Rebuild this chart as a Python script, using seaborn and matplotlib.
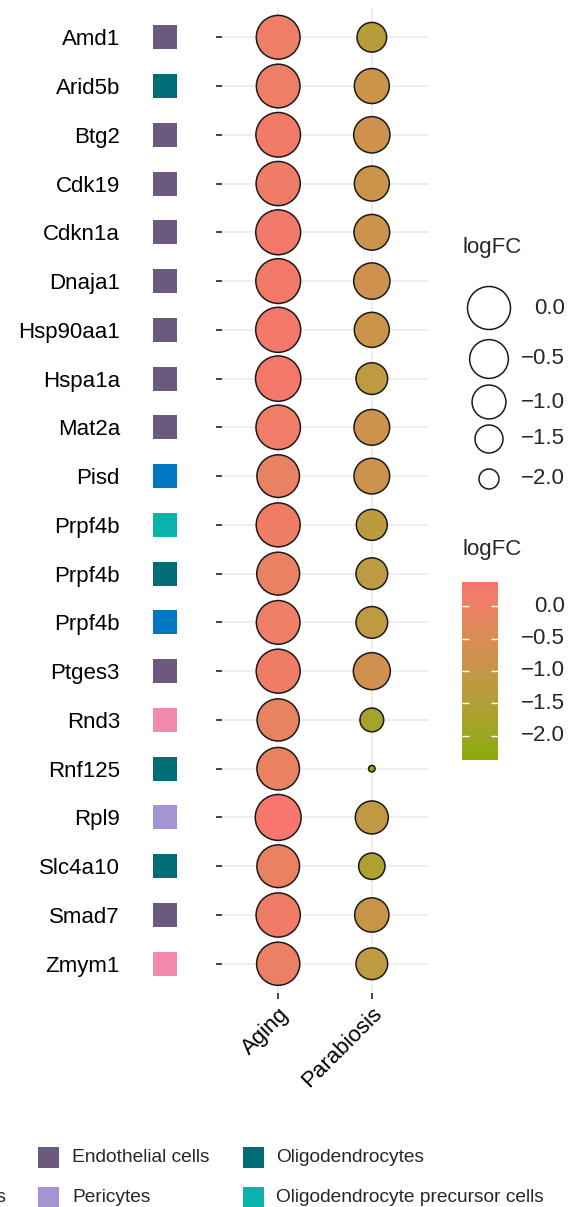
import numpy as np
import pandas as pd
import matplotlib
matplotlib.use("Agg")
import matplotlib.pyplot as plt
import seaborn as sns
from matplotlib.colors import LinearSegmentedColormap, Normalize
from matplotlib.cm import ScalarMappable
from matplotlib.colors import to_rgb

# ---- data -------------------------------------------------------------
genes = ["Amd1", "Arid5b", "Btg2", "Cdk19", "Cdkn1a", "Dnaja1", "Hsp90aa1",
         "Hspa1a", "Mat2a", "Pisd", "Prpf4b", "Prpf4b", "Prpf4b", "Ptges3",
         "Rnd3", "Rnf125", "Rpl9", "Slc4a10", "Smad7", "Zmym1"]
gene_cell_types = ["Endothelial cells", "Oligodendrocytes", "Endothelial cells",
                   "Endothelial cells", "Endothelial cells", "Endothelial cells",
                   "Endothelial cells", "Endothelial cells", "Endothelial cells",
                   "Astrocytes", "Oligodendrocyte precursor cells",
                   "Oligodendrocytes", "Astrocytes", "Endothelial cells",
                   "Microglia", "Oligodendrocytes", "Pericytes",
                   "Oligodendrocytes", "Endothelial cells", "Microglia"]
aging_logfc = [0.10, 0.08, 0.20, 0.15, 0.24, 0.22, 0.26, 0.30, 0.18, -0.05,
               0.12, -0.02, 0.08, 0.12, -0.10, -0.06, 0.37, -0.04, 0.15, 0.02]
parabiosis_logfc = [-1.37, -0.89, -0.76, -0.89, -0.82, -0.76, -0.89, -1.20,
                    -0.82, -0.82, -1.26, -1.20, -1.20, -0.69, -1.79, -2.37,
                    -1.08, -1.62, -0.96, -1.20]
conditions = ["Aging", "Parabiosis"]

cell_type_order = ["Microglia", "Astrocytes", "Endothelial cells", "Pericytes",
                   "Oligodendrocytes", "Oligodendrocyte precursor cells"]
cell_type_colors = ["#F28AAE", "#0077C0", "#6B5A7E", "#A495D2", "#006D77", "#0AB2AC"]

size_breaks = [0.0, -0.5, -1.0, -1.5, -2.0]
break_labels = ["0.0", "\u22120.5", "\u22121.0", "\u22121.5", "\u22122.0"]
logfc_limits = (-2.375, 0.375)

# ---- helpers ------------------------------------------------------------
DPI = 100
W, H = 576, 1207


def srgb_to_lab(rgb):
    c = np.asarray(rgb, float)
    lin = np.where(c <= 0.04045, c / 12.92, ((c + 0.055) / 1.055) ** 2.4)
    m = np.array([[0.4124, 0.3576, 0.1805],
                  [0.2126, 0.7152, 0.0722],
                  [0.0193, 0.1192, 0.9505]])
    xyz = m @ lin / np.array([0.95047, 1.0, 1.08883])
    d = 6 / 29
    f = np.where(xyz > d ** 3, np.cbrt(xyz), xyz / (3 * d * d) + 4 / 29)
    return np.array([116 * f[1] - 16, 500 * (f[0] - f[1]), 200 * (f[1] - f[2])])


def lab_to_srgb(lab):
    L, a, b = lab
    fy = (L + 16) / 116
    fx = fy + a / 500
    fz = fy - b / 200
    d = 6 / 29
    f = np.array([fx, fy, fz])
    xyz = np.where(f > d, f ** 3, 3 * d * d * (f - 4 / 29)) * np.array([0.95047, 1.0, 1.08883])
    minv = np.linalg.inv(np.array([[0.4124, 0.3576, 0.1805],
                                   [0.2126, 0.7152, 0.0722],
                                   [0.0193, 0.1192, 0.9505]]))
    lin = np.clip(minv @ xyz, 0, 1)
    c = np.where(lin <= 0.0031308, 12.92 * lin, 1.055 * lin ** (1 / 2.4) - 0.055)
    return np.clip(c, 0, 1)


def lab_gradient(low, high, n=256):
    l0, l1 = srgb_to_lab(to_rgb(low)), srgb_to_lab(to_rgb(high))
    cols = [lab_to_srgb(l0 + (l1 - l0) * t) for t in np.linspace(0, 1, n)]
    return LinearSegmentedColormap.from_list("logfc", cols)


def marker_area(v):
    lo, hi = logfc_limits
    frac = np.clip((np.asarray(v) - lo) / (hi - lo), 0, 1)
    diam_px = 5.8 + 41.1 * np.sqrt(frac) - 1.0
    diam_px = np.maximum(diam_px, 3.0)
    return (diam_px * 72 / DPI) ** 2


cmap = lab_gradient("#8AAB00", "#F8766D")
norm = Normalize(*logfc_limits)

sns.set_style("white")
plt.rcParams["font.family"] = ["Liberation Sans", "DejaVu Sans"]
plt.rcParams["axes.unicode_minus"] = True
FS = 16

n = len(genes)
rows = np.arange(n)
df = pd.DataFrame({
    "row": np.concatenate([rows, rows]),
    "cond": np.repeat([0, 1], n),
    "logfc": np.concatenate([aging_logfc, parabiosis_logfc]),
})
size_map = {v: float(marker_area(v)) for v in df["logfc"].unique()}

fig = plt.figure(figsize=(W / DPI, H / DPI), dpi=DPI)


def px_axes(x0, y0, x1, y1):
    return fig.add_axes([x0 / W, 1 - y1 / H, (x1 - x0) / W, (y1 - y0) / H])


# ---- dot panel ----------------------------------------------------------
ax = px_axes(222, 8, 428, 993)
ax.set_axisbelow(True)
ax.grid(True, color="#EBEBEB", lw=1.2)
sns.scatterplot(data=df, x="cond", y="row", hue="logfc", palette=cmap,
                hue_norm=norm, size="logfc", sizes=size_map,
                edgecolor="#1A1A1A", linewidth=1.1, legend=False, ax=ax,
                zorder=3)
ax.set_xlim(-0.6, 1.6)
ax.set_ylim(n - 1 + 0.6, -0.6)
ax.set_xticks([0, 1])
ax.set_xticklabels(conditions, rotation=45, ha="right",
                   rotation_mode="anchor", fontsize=FS, color="black")
ax.set_yticks(rows)
ax.set_yticklabels([])
ax.tick_params(axis="y", length=4, width=1.3, color="#333333", left=True)
ax.tick_params(axis="x", length=4.5, width=1.3, color="#333333", bottom=True, pad=3)
ax.set_xlabel("")
ax.set_ylabel("")
for sp in ax.spines.values():
    sp.set_visible(False)

# ---- cell-type tiles ----------------------------------------------------
axt = px_axes(140, 8, 190, 993)
tiles = pd.DataFrame({"x": np.zeros(n), "row": rows, "cell_type": gene_cell_types})
sns.scatterplot(data=tiles, x="x", y="row", hue="cell_type",
                palette=dict(zip(cell_type_order, cell_type_colors)),
                marker="s", s=(24 * 72 / DPI) ** 2, linewidth=0,
                legend=False, ax=axt)
axt.set_xlim(-1, 1)
axt.set_ylim(n - 1 + 0.6, -0.6)
axt.set_yticks(rows)
axt.set_yticklabels(genes, fontsize=FS, color="black")
axt.tick_params(axis="y", length=0, pad=14.4)
axt.set_xticks([])
axt.set_xlabel("")
axt.set_ylabel("")
for sp in axt.spines.values():
    sp.set_visible(False)

# ---- legends ------------------------------------------------------------
lax = px_axes(0, 0, W, H)
lax.set_xlim(0, W)
lax.set_ylim(H, 0)
lax.axis("off")

# size legend
lax.text(463, 247, "logFC", fontsize=FS, ha="left", va="center")
size_y = [308, 359, 402, 439, 479]
lax.scatter([489] * len(size_breaks), size_y, s=marker_area(size_breaks),
            facecolor="white", edgecolor="#1A1A1A", linewidth=1.1)
for y, lab in zip(size_y, break_labels):
    lax.text(565, y, lab, fontsize=FS, ha="right", va="center")

# colour bar
lax.text(463, 550, "logFC", fontsize=FS, ha="left", va="center")
cax = px_axes(462, 582, 498, 760)
cb = fig.colorbar(ScalarMappable(norm=norm, cmap=cmap), cax=cax)
cb.outline.set_visible(False)
cax.set_yticks([])
tr = cax.get_yaxis_transform()
cax.hlines(size_breaks, 0, 0.2, transform=tr, color="white", lw=1)
cax.hlines(size_breaks, 0.8, 1.0, transform=tr, color="white", lw=1)
for v, lab in zip(size_breaks, break_labels):
    cax.text((565 - 462) / 36, v, lab, transform=tr, fontsize=FS,
             ha="right", va="center", clip_on=False)

# cell-type legend (two rows, filled column-wise); the first column starts
# left of the canvas so that only the tail of its widest label shows
LEG_FS = FS * 0.86
renderer = fig.canvas.get_renderer()
probe = lax.text(0, 0, cell_type_order[1], fontsize=LEG_FS)
first_w = probe.get_window_extent(renderer).width
probe.remove()
first_text_x = 7 - first_w
col_text_x = [first_text_x, 72, 276]
col_square_x = [first_text_x - 24, 48, 253]
row_y = [1157, 1197]
for i, (name, col) in enumerate(zip(cell_type_order, cell_type_colors)):
    c, r = divmod(i, 2)
    lax.scatter([col_square_x[c]], [row_y[r]], marker="s",
                s=(21 * 72 / DPI) ** 2, color=col, linewidth=0, clip_on=False)
    lax.text(col_text_x[c], row_y[r], name, fontsize=LEG_FS,
             ha="left", va="center")

fig.savefig("out.png", dpi=DPI)
